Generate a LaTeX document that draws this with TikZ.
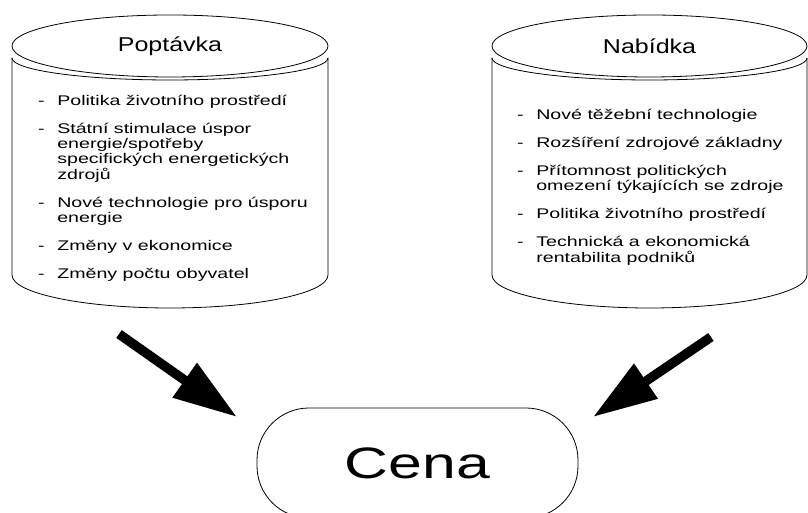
\documentclass[tikz,border=0pt]{standalone}
\usepackage{fontspec}
\setmainfont{Liberation Sans}
\usepackage{graphicx}
\usetikzlibrary{arrows.meta, positioning}

\tikzset{
  drum/.style={line width=0.8pt},
  bigarrow/.style={line width=9.5pt, -{Triangle[length=64pt,width=40pt]}},
  title/.style={font=\fontsize{20}{24}\selectfont, inner sep=0pt},
  itemlist/.style={font=\fontsize{14}{15}\selectfont, inner sep=0pt, anchor=base west},
  cena/.style={draw, line width=0.8pt, rounded corners=52pt, minimum width=321pt,
    minimum height=110pt, inner sep=0pt, font=\fontsize{44}{48}\selectfont},
}
\newcommand{\wide}[2][1.4]{\scalebox{#1}[1]{#2}}

\begin{document}
\begin{tikzpicture}[x=1pt,y=1pt]
    \useasboundingbox (0,0) rectangle (808,513);

    % left drum
    \draw[drum] (170,467) ellipse [x radius=158pt, y radius=31pt];
    \draw[drum] (12,455) -- (12,238) arc[start angle=180, end angle=360, x radius=158pt, y radius=33pt] -- (328,455);
    \draw[drum] (12,455) arc[start angle=180, end angle=360, x radius=158pt, y radius=22pt];

    % right drum
    \draw[drum] (649.5,467) ellipse [x radius=157.5pt, y radius=31pt];
    \draw[drum] (492,455) -- (492,238) arc[start angle=180, end angle=360, x radius=157.5pt, y radius=33pt] -- (807,455);
    \draw[drum] (492,455) arc[start angle=180, end angle=360, x radius=157.5pt, y radius=22pt];

    \node[title] (poptavka) at (170,467) {\wide[1.25]{Poptávka}};
    \node[title] (nabidka) at (649.5,467) {\wide[1.25]{Nabídka}};

    \node[itemlist] (poplist) at (38,407) {\wide{\begin{tabular}[t]{@{}l@{\hspace{9pt}}l@{}}
        - & Politika životního prostředí\\[13pt]
        - & Státní stimulace úspor\\
          & energie/spotřeby\\
          & specifických energetických\\
          & zdrojů\\[13pt]
        - & Nové technologie pro úsporu\\
          & energie\\[13pt]
        - & Změny v ekonomice\\[13pt]
        - & Změny počtu obyvatel
        \end{tabular}}};

    \node[itemlist] (nablist) at (517,393) {\wide{\begin{tabular}[t]{@{}l@{\hspace{9pt}}l@{}}
        - & Nové těžební technologie\\[13pt]
        - & Rozšíření zdrojové základny\\[13pt]
        - & Přítomnost politických\\
          & omezení týkajících se zdroje\\[13pt]
        - & Politika životního prostředí\\[13pt]
        - & Technická a ekonomická\\
          & rentabilita podniků
        \end{tabular}}};

    \node[cena] (cena) at (417.5,50) {\wide[1.38]{Cena}};

    \coordinate (popend) at (119,179);
    \coordinate (poptip) at (237,96);
    \coordinate (nabend) at (711,176);
    \coordinate (nabtip) at (593,96);

    \draw[bigarrow] (popend) -- (poptip);
    \draw[bigarrow] (nabend) -- (nabtip);
\end{tikzpicture}
\end{document}
